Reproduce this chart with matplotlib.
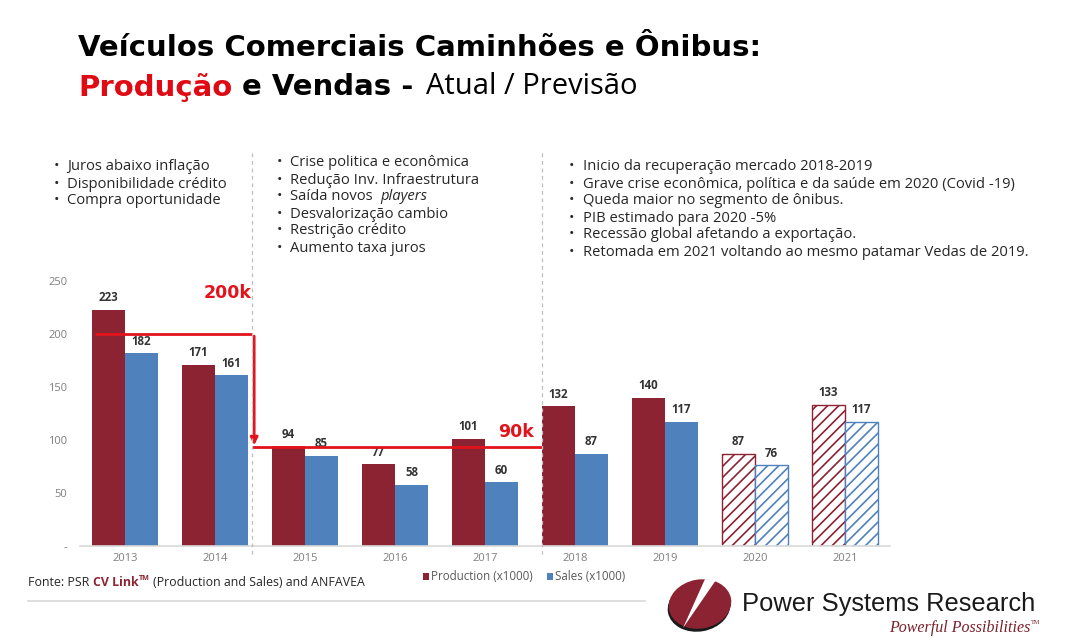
import matplotlib
matplotlib.use('Agg')
import matplotlib.pyplot as plt
from matplotlib.patches import Ellipse, Polygon
import numpy as np

# ---------------- data ----------------
years = ['2013', '2014', '2015', '2016', '2017', '2018', '2019', '2020', '2021']
production = [223, 171, 94, 77, 101, 132, 140, 87, 133]
sales = [182, 161, 85, 58, 60, 87, 117, 76, 117]
forecast = [False, False, False, False, False, False, False, True, True]
yticks = [0, 50, 100, 150, 200, 250]
ytick_labels = ['-', '50', '100', '150', '200', '250']
series_labels = ['Production (x1000)', 'Sales (x1000)']

bullets_left = ['Juros abaixo inflação', 'Disponibilidade crédito', 'Compra oportunidade']
bullets_mid = ['Crise politica e econômica', 'Redução Inv. Infraestrutura',
               'Saída novos |players', 'Desvalorização cambio', 'Restrição crédito',
               'Aumento taxa juros']
bullets_right = ['Inicio da recuperação mercado 2018-2019',
                 'Grave crise econômica, política e da saúde em 2020 (Covid -19)',
                 'Queda maior no segmento de ônibus.',
                 'PIB estimado para 2020 -5%',
                 'Recessão global afetando a exportação.',
                 'Retomada em 2021 voltando ao mesmo patamar Vedas de 2019.']

PROD = '#8C2333'
SALES = '#4F81BD'
RED = '#E3131B'
TXT = '#262626'
BODY_FONT = 'Open Sans'

plt.rcParams['hatch.linewidth'] = 1.2

W, H = 1080, 643
fig = plt.figure(figsize=(10.8, 6.43), dpi=100)
fig.patch.set_facecolor('white')


def fx(px):
    return px / W


def fy(py):
    return 1 - py / H


# ---------------- main chart ----------------
ax = fig.add_axes([fx(80), fy(546), (890 - 80) / W, (546 - 281) / H])
x = np.arange(len(years))
w = 0.367
bp = ax.bar(x - w / 2, production, w, color=PROD, edgecolor=PROD, linewidth=0, zorder=2)
bs = ax.bar(x + w / 2, sales, w, color=SALES, edgecolor=SALES, linewidth=0, zorder=2)
for cont, col in ((bp, PROD), (bs, SALES)):
    for patch, fc in zip(cont.patches, forecast):
        if fc:
            patch.set_facecolor('white')
            patch.set_edgecolor(col)
            patch.set_hatch('///')
            patch.set_linewidth(1.0)
for cont in (bp, bs):
    ax.bar_label(cont, padding=4, fontsize=8.3, fontweight='bold', color='#333333',
                 family=BODY_FONT)

ax.set_xlim(-0.5, len(years) - 0.5)
ax.set_ylim(0, 250)
ax.set_xticks(x, years)
ax.set_yticks(yticks, ytick_labels)
ax.tick_params(axis='both', length=0, labelsize=8, labelcolor='#7F7F7F')
ax.tick_params(axis='y', pad=9)
ax.tick_params(axis='x', pad=5)
for lab in ax.get_xticklabels() + ax.get_yticklabels():
    lab.set_family(BODY_FONT)
for s in ('left', 'right', 'top'):
    ax.spines[s].set_visible(False)
ax.spines['bottom'].set_color('#D9D9D9')
ax.spines['bottom'].set_linewidth(1.2)

# red annotation lines (data coordinates)
ax.plot([-0.33, 1.41], [200, 200], color=RED, lw=2, zorder=4, solid_capstyle='butt')
ax.annotate('', xy=(1.435, 95), xytext=(1.435, 198),
            arrowprops=dict(arrowstyle='-|>', color=RED, lw=2, mutation_scale=11,
                            shrinkA=0, shrinkB=0), zorder=4)
ax.plot([1.41, 4.64], [93, 93], color=RED, lw=2, zorder=4, solid_capstyle='butt')

# legend
fig.legend(handles=[bp.patches[0], bs.patches[0]], labels=series_labels,
           loc='center', bbox_to_anchor=(fx(524), fy(577)), ncol=2, frameon=False,
           labelcolor='#595959', handlelength=0.55, handleheight=0.55,
           handletextpad=0.2, columnspacing=1.2, prop={'family': BODY_FONT, 'size': 8.3})

# ---------------- overlay in pixel coords ----------------
ov = fig.add_axes([0, 0, 1, 1])
ov.set_xlim(0, W)
ov.set_ylim(H, 0)
ov.axis('off')
ov.patch.set_visible(False)
ov.set_zorder(5)
renderer = fig.canvas.get_renderer()


def runs(xp, yp, parts, **common):
    """parts: list of (text, dict(kwargs), gap_after_px)"""
    cur = xp
    for txt, kw, gap in parts:
        kk = dict(common)
        kk.update(kw)
        t = ov.text(cur, yp, txt, ha='left', va='center', **kk)
        bb = t.get_window_extent(renderer)
        cur += bb.width + gap
    return cur


# dividers
for xd in (252, 542):
    ov.plot([xd, xd], [153, 556], color='#BFBFBF', lw=0.9, ls=(0, (3, 3)))

# titles
runs(78, 48, [('Veículos Comerciais Caminhões e Ônibus:', dict(color='black'), 0)],
     fontsize=21, fontweight='bold', family='DejaVu Sans')
runs(78, 87, [('Produção', dict(color='#E00A14', fontweight='bold'), 10),
              ('e Vendas -', dict(color='black', fontweight='bold'), 12),
              ('Atual / Previsão', dict(color='black', fontweight='normal',
                                         family=BODY_FONT, fontsize=21), 0)],
     fontsize=21, family='DejaVu Sans')

# 200k / 90k labels
ov.text(228, 293, '200k', color=RED, fontsize=12.5, fontweight='bold', ha='center',
        va='center', family='DejaVu Sans')
ov.text(516, 432, '90k', color=RED, fontsize=12.5, fontweight='bold', ha='center',
        va='center', family='DejaVu Sans')


# bullet lists
def bullets(xb, xt, y0, items, dy=17):
    for i, item in enumerate(items):
        yy = y0 + i * dy
        ov.text(xb, yy, '•', ha='left', va='center', fontsize=10.5, color=TXT,
                family=BODY_FONT)
        if '|' in item:
            a, b = item.split('|')
            runs(xt, yy, [(a, dict(), 3.5), (b, dict(style='italic'), 0)],
                 fontsize=10.6, color=TXT, family=BODY_FONT)
        else:
            ov.text(xt, yy, item, ha='left', va='center', fontsize=10.6, color=TXT,
                    family=BODY_FONT)


bullets(54, 67, 167, bullets_left)
bullets(277, 290, 163, bullets_mid)
bullets(569, 583, 167, bullets_right)

# source line
cur = runs(28, 583, [('Fonte: PSR', dict(color=TXT), 3.8),
                     ('CV Link', dict(color=PROD, fontweight='bold'), 0.5)],
           fontsize=8.9, family=BODY_FONT)
tm = ov.text(cur, 579, 'TM', fontsize=5.2, color=PROD, fontweight='bold', ha='left',
             va='center', family=BODY_FONT)
cur += tm.get_window_extent(renderer).width + 3
ov.text(cur, 583, '(Production and Sales) and ANFAVEA', fontsize=8.9, color=TXT,
        ha='left', va='center', family=BODY_FONT)
ov.plot([28, 645], [601, 601], color='#D9D9D9', lw=1.2)

# logo
ov.add_patch(Ellipse((699, 607), 63, 49, angle=-10, facecolor='#1a1a1a', edgecolor='none'))
ov.add_patch(Ellipse((700, 604), 63, 49, angle=-10, facecolor=PROD, edgecolor='none'))
ov.add_patch(Polygon([(705, 579), (716, 580), (683, 628)], closed=True,
                     facecolor='white', edgecolor='none'))
ov.text(742, 604, 'Power Systems Research', fontsize=18.4, color='#1a1a1a',
        family='Liberation Sans', ha='left', va='center')
ov.text(1030, 628, 'Powerful Possibilities', fontsize=11.5, color='#7A1F2B',
        family='Liberation Serif', style='italic', ha='right', va='center')
ov.text(1031, 622, 'TM', fontsize=4.5, color='#7A1F2B', family='Liberation Serif',
        ha='left', va='center')

fig.savefig('out.png', dpi=100, facecolor='white')
